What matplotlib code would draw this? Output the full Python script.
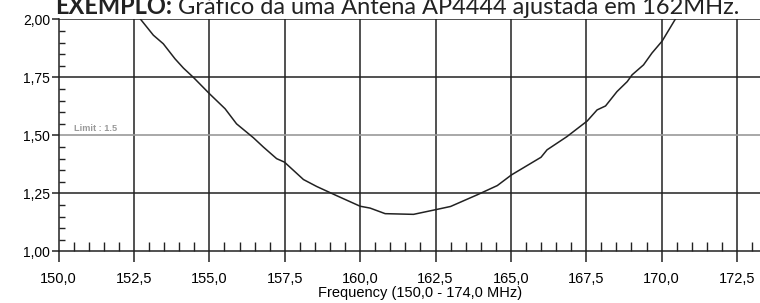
import matplotlib.pyplot as plt
from matplotlib.ticker import MultipleLocator

# VSWR curve
freq = [152.72, 153.14, 153.47, 153.86, 154.14, 154.47, 155.0, 155.52, 155.9,
        156.46, 156.79, 157.23, 157.49, 158.12, 158.56, 159.23, 160.0, 160.33,
        160.83, 161.77, 162.5, 163.0, 163.88, 164.55, 165.02, 166.0, 166.2,
        166.86, 167.53, 167.86, 168.14, 168.52, 168.86, 169.02, 169.4, 169.68,
        170.02, 170.45]
vswr = [2.00, 1.932, 1.895, 1.83, 1.79, 1.75, 1.68, 1.615, 1.55,
        1.49, 1.45, 1.40, 1.385, 1.31, 1.28, 1.24, 1.195, 1.187,
        1.163, 1.16, 1.18, 1.194, 1.244, 1.284, 1.33, 1.406, 1.438,
        1.495, 1.562, 1.61, 1.627, 1.689, 1.732, 1.761, 1.804, 1.855,
        1.907, 2.00]

limit = 1.5
x_ticks = [150.0, 152.5, 155.0, 157.5, 160.0, 162.5, 165.0, 167.5, 170.0, 172.5]
x_labels = ["150,0", "152,5", "155,0", "157,5", "160,0", "162,5", "165,0", "167,5", "170,0", "172,5"]
y_ticks = [1.00, 1.25, 1.50, 1.75, 2.00]
y_labels = ["1,00", "1,25", "1,50", "1,75", "2,00"]

plt.rcParams["font.family"] = ["Liberation Sans", "DejaVu Sans"]

fig = plt.figure(figsize=(7.6, 3.03), dpi=100)
# the original plot runs to 174 MHz, past the right edge of the image
ax = fig.add_axes([0.0772, 0.170, 0.952, 0.766])

ink = "#222222"
for v in y_ticks[1:]:
    if v != limit:
        ax.axhline(v, color=ink, lw=1.1, zorder=1)
for f in x_ticks[1:]:
    ax.axvline(f, color=ink, lw=1.1, zorder=1)
ax.axhline(limit, color="#9a9a9a", lw=1.2, zorder=1)
ax.text(150.5, limit + 0.012, f"Limit : {limit}", color="#9a9a9a", fontsize=6.6,
        fontweight="bold", va="bottom", ha="left")

ax.plot(freq, vswr, color=ink, lw=1.1, zorder=3)

ax.set_xlim(150, 174)
ax.set_ylim(1.0, 2.0)
ax.set_xticks(x_ticks)
ax.set_xticklabels(x_labels, fontsize=10.5)
ax.set_yticks(y_ticks)
ax.set_yticklabels(y_labels, fontsize=10)
ax.xaxis.set_minor_locator(MultipleLocator(0.5))
ax.yaxis.set_minor_locator(MultipleLocator(0.05))
ax.tick_params(axis="x", which="major", direction="out", length=8, width=1.1, color=ink, pad=6.5)
ax.tick_params(axis="x", which="minor", direction="in", length=6.5, width=1.0, color=ink)
ax.tick_params(axis="y", which="major", direction="out", length=5, width=1.1, color=ink, pad=1)
ax.tick_params(axis="y", which="minor", direction="in", length=4.3, width=1.0, color=ink)
for side in ["top", "right"]:
    ax.spines[side].set_visible(False)
for side in ["left", "bottom"]:
    ax.spines[side].set_color(ink)
    ax.spines[side].set_linewidth(1.1)
ax.set_xlabel("Frequency (150,0 - 174,0 MHz)", fontsize=10.5, labelpad=0)

t1 = fig.text(0.073, 0.942, "EXEMPLO:", fontsize=17, fontweight="bold",
              family=["Lato", "DejaVu Sans"], color=ink, va="bottom", ha="left")
ax.annotate(" Gráfico da uma Antena AP4444 ajustada em 162MHz.", xy=(1, 0), xycoords=t1,
            fontsize=17, family=["Lato", "DejaVu Sans"], color=ink, va="bottom", ha="left",
            annotation_clip=False)

fig.savefig("out.png", dpi=100)
